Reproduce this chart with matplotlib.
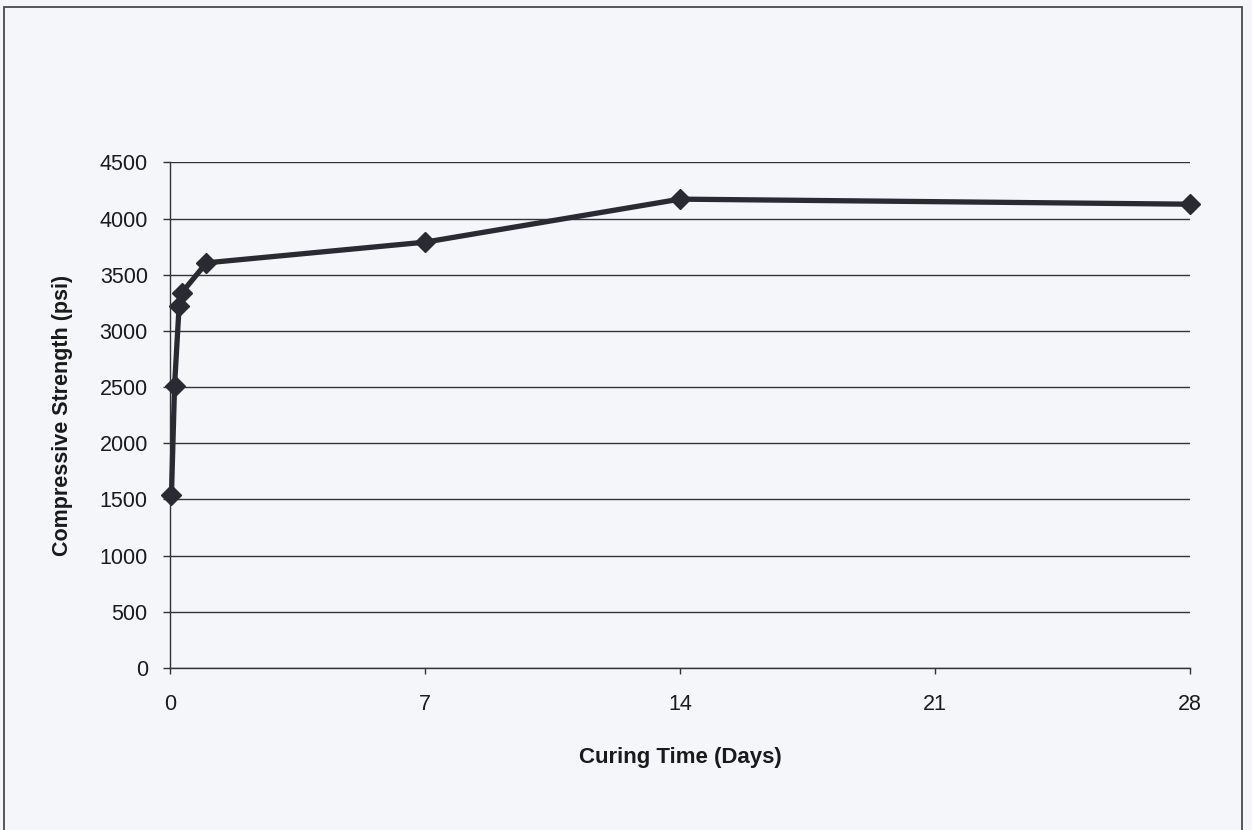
import matplotlib
matplotlib.use("Agg")
import matplotlib.pyplot as plt
from matplotlib.patches import Rectangle

# Curing age (days) and measured compressive strength (psi)
curing_days = [0.04, 0.125, 0.25, 0.33, 1, 7, 14, 28]
strength_psi = [1540, 2512, 3223, 3342, 3606, 3790, 4173, 4128]

x_ticks = [0, 7, 14, 21, 28]
y_ticks = list(range(0, 4501, 500))

W, H = 1252, 830
bg = "#f5f6fa"
fig = plt.figure(figsize=(W / 100, H / 100), dpi=100, facecolor=bg)

# outer chart frame
fig.patches.append(Rectangle((4 / W, -0.05), (1242 - 4) / W, (H - 7) / H + 0.05,
                             transform=fig.transFigure, fill=False,
                             edgecolor="#4a4a4a", linewidth=1.3))

left, right, top, bottom = 170, 1190, 162.4, 668
ax = fig.add_axes([left / W, 1 - bottom / H, (right - left) / W, (bottom - top) / H])
ax.set_facecolor(bg)

ax.plot(curing_days, strength_psi, color="#2a2a33", linewidth=3.8,
        marker="D", markersize=10, markerfacecolor="#2a2a33",
        markeredgecolor="#2a2a33", zorder=3, clip_on=False)

ax.set_xlim(0, 28)
ax.set_ylim(0, 4500)
ax.set_xticks(x_ticks)
ax.set_yticks(y_ticks)
ax.grid(axis="y", color="#333333", linewidth=1.0)
ax.set_axisbelow(True)

for s in ["top", "right"]:
    ax.spines[s].set_visible(False)
for s in ["left", "bottom"]:
    ax.spines[s].set_color("#333333")
    ax.spines[s].set_linewidth(1.0)

ax.tick_params(axis="both", colors="#333333", labelcolor="#1a1a1a",
               labelsize=15.5, width=1.0)
ax.tick_params(axis="x", direction="out", length=4, pad=15)
ax.tick_params(axis="y", direction="out", length=5, pad=11)

ax.set_xlabel("Curing Time (Days)", fontsize=16, fontweight="bold",
              color="#1a1a1a")
ax.set_ylabel("Compressive Strength (psi)", fontsize=15.5, fontweight="bold",
              color="#1a1a1a")
ax.xaxis.set_label_coords(0.5, 1 - (758 - top) / (bottom - top), transform=ax.transAxes)
ax.xaxis.label.set_verticalalignment("center")
ax.yaxis.set_label_coords((63 - left) / (right - left), 0.5, transform=ax.transAxes)
ax.yaxis.label.set_verticalalignment("center")

for t in ax.get_xticklabels() + ax.get_yticklabels():
    t.set_fontfamily("Liberation Sans")
ax.xaxis.label.set_fontfamily("Liberation Sans")
ax.yaxis.label.set_fontfamily("Liberation Sans")

fig.savefig("out.png", dpi=100, facecolor=bg)
